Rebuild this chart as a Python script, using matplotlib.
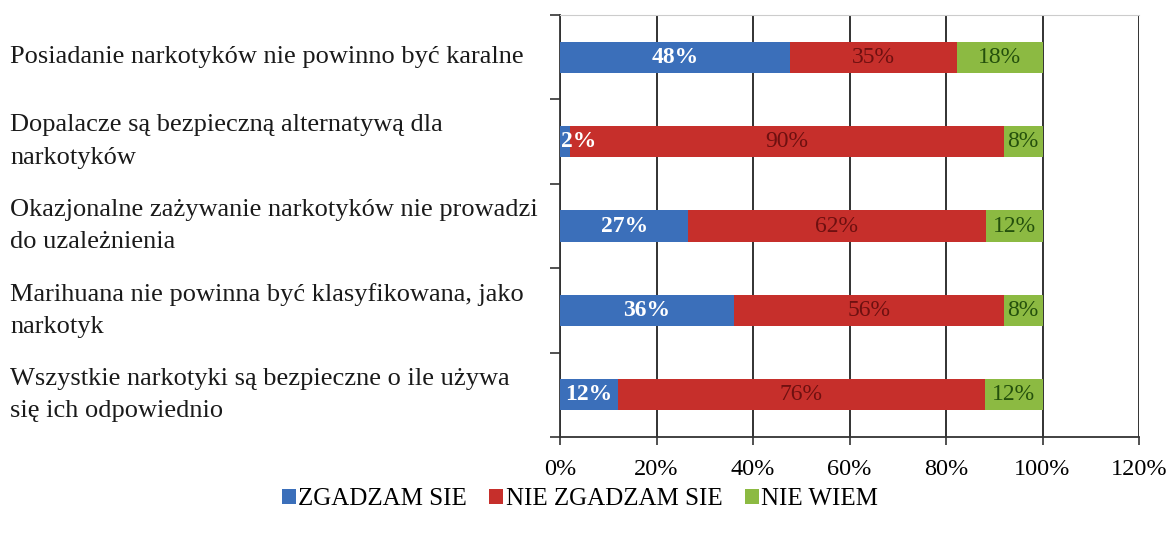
import matplotlib
matplotlib.use("Agg")
from matplotlib import pyplot as plt
from matplotlib.transforms import blended_transform_factory
from matplotlib.patches import Patch
import numpy as np

plt.rcParams['font.family'] = ['Liberation Serif', 'DejaVu Serif']

categories = [
    "Posiadanie narkotyków nie powinno być karalne",
    "Dopalacze są bezpieczną alternatywą dla\nnarkotyków",
    "Okazjonalne zażywanie narkotyków nie prowadzi\ndo uzależnienia",
    "Marihuana nie powinna być klasyfikowana, jako\nnarkotyk",
    "Wszystkie narkotyki są bezpieczne o ile używa\nsię ich odpowiednio",
]
series_names = ["ZGADZAM SIE", "NIE ZGADZAM SIE", "NIE WIEM"]
zgadzam = [47.6, 2.0, 26.6, 36.0, 12.0]
nie_zgadzam = [34.6, 90.0, 61.6, 56.0, 76.0]
nie_wiem = [17.8, 8.0, 11.8, 8.0, 12.0]
xticks = [0, 20, 40, 60, 80, 100, 120]

colors = ['#3b6fba', '#c62f2b', '#8cba42']
label_colors = ['white', '#6e1010', '#24500c']
label_weights = ['bold', 'normal', 'normal']

fig = plt.figure(figsize=(11.74, 5.38), dpi=100)
ax = fig.add_axes([560/1174, 1-437/538, (1139-560)/1174, (437-15)/538])

y = np.arange(len(categories))
left = np.zeros(len(categories))
for vals, col, lc, lw in zip([zgadzam, nie_zgadzam, nie_wiem], colors, label_colors, label_weights):
    vals = np.array(vals)
    ax.barh(y, vals, left=left, height=0.37, color=col, zorder=3)
    for yi, l, v in zip(y, left, vals):
        txt = f"{int(v + 0.5)}%"
        if v < 5:
            ax.text(l + 0.2, yi, txt, ha='left', va='center', color=lc,
                    fontsize=17, fontweight=lw, zorder=4)
        else:
            ax.text(l + v/2, yi, txt, ha='center', va='center', color=lc,
                    fontsize=17, fontweight=lw, zorder=4)
    left += vals

ax.set_xlim(0, 120)
ax.set_ylim(len(categories) - 0.5, -0.5)
ax.set_xticks(xticks)
ax.set_xticklabels([f"{t}%" for t in xticks], fontsize=17.5)
ax.tick_params(axis='x', direction='out', length=6, width=1.2, color='#333333', pad=10)
ax.set_yticks(np.arange(-0.5, len(categories), 1.0))
ax.set_yticklabels([])
ax.tick_params(axis='y', direction='out', length=7, width=1.2, color='#333333')
ax.grid(axis='x', color='#222222', linewidth=1.3, zorder=1)
ax.spines['right'].set_visible(False)
ax.spines['top'].set_color('#cccccc')
ax.spines['left'].set_color('#333333')
ax.spines['bottom'].set_color('#333333')
ax.spines['left'].set_linewidth(1.3)
ax.spines['bottom'].set_linewidth(1.3)

trans = blended_transform_factory(fig.transFigure, ax.transData)
for yi, c in zip(y, categories):
    ax.text(10/1174, yi, c, transform=trans, ha='left', va='center',
            fontsize=19, linespacing=1.6, color='#1a1a1a')

handles = [Patch(facecolor=c) for c in colors]
fig.legend(handles, series_names, loc='center', bbox_to_anchor=(580/1174, 1-499/538),
           ncol=3, frameon=False, fontsize=18, handlelength=0.55, handleheight=0.55,
           handletextpad=0.1, columnspacing=0.9)

fig.savefig("out.png", dpi=100, facecolor='white')
